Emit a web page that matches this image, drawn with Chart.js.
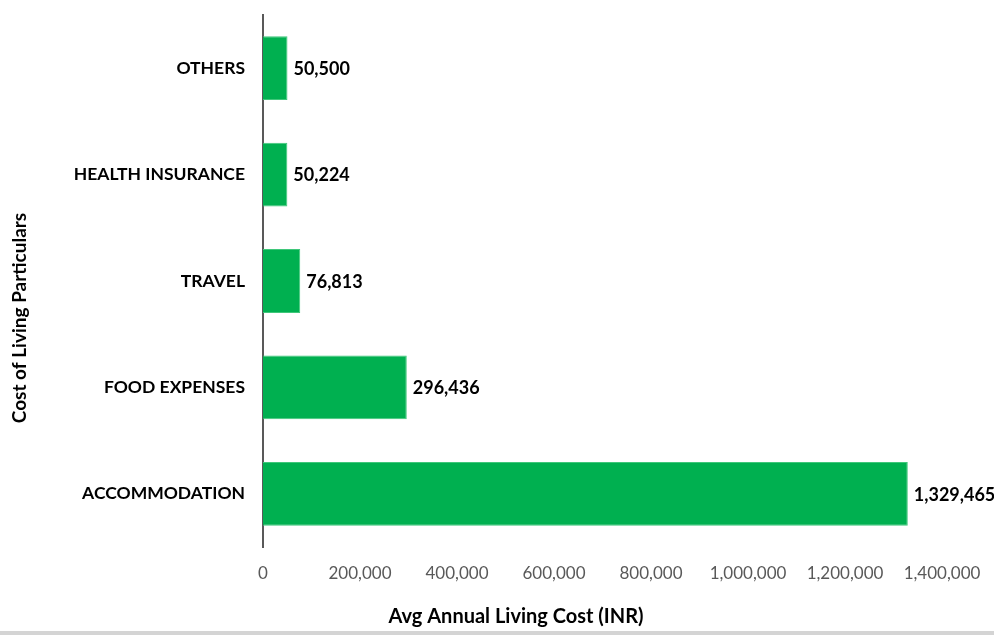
<!DOCTYPE html>
<html>
<head>
<meta charset="utf-8">
<script src="https://cdn.jsdelivr.net/npm/chart.js@4"></script>
<style>
  html, body { margin: 0; padding: 0; background: #fff; }
  #wrap { position: relative; width: 994px; height: 631px; }
  #baseLine { width: 994px; height: 4px; background: #d4d4d4; }
</style>
</head>
<body>
<div id="wrap"><canvas id="costChart"></canvas></div>
<div id="baseLine"></div>
<script>
// Dati
const categories = ["OTHERS", "HEALTH INSURANCE", "TRAVEL", "FOOD EXPENSES", "ACCOMMODATION"];
const costValues = [50500, 50224, 76813, 296436, 1329465];
const xTicks = [0, 200000, 400000, 600000, 800000, 1000000, 1200000, 1400000];

const FONT = "Lato, 'Open Sans', sans-serif";

// Etichette valore a destra di ogni barra + titoli degli assi
const barLabels = {
	id: 'barLabels',
	afterDatasetsDraw(chart) {
		const ctx = chart.ctx;
		const meta = chart.getDatasetMeta(0);
		ctx.save();
		ctx.font = "bold 18px " + FONT;
		ctx.fillStyle = "#000";
		ctx.textBaseline = "middle";
		ctx.textAlign = "left";
		meta.data.forEach(function(bar, i) {
			ctx.fillText(costValues[i].toLocaleString('en-US'), bar.x + 6, bar.y + 1);
		});
		ctx.font = "bold 20px " + FONT;
		ctx.textAlign = "center";
		ctx.fillText("Avg Annual Living Cost (INR)", 516, 617);
		ctx.font = "bold 19px " + FONT;
		ctx.translate(20, 318);
		ctx.rotate(-Math.PI / 2);
		ctx.fillText("Cost of Living Particulars", 0, 0);
		ctx.restore();
	}
};

let config = {
	type: 'bar',
	data: {
		labels: categories,
		datasets: [{
			data: costValues,
			backgroundColor: "#00B050",
			borderColor: "#3FC77A",
			borderWidth: 1,
			categoryPercentage: 1,
			barPercentage: 0.6
		}]
	},
	options: {
		indexAxis: 'y',
		responsive: true,
		maintainAspectRatio: false,
		animation: false,
		layout: { padding: { top: 15, right: 52, bottom: 0, left: 0 } },
		plugins: {
			legend: { display: false },
			tooltip: { enabled: false }
		},
		scales: {
			x: {
				min: 0,
				max: 1400000,
				afterBuildTicks: function(scale) {
					scale.ticks = xTicks.map(v => ({ value: v }));
				},
				afterFit: function(scale) { scale.height = 84; },
				grid: { display: false },
				border: { display: false },
				ticks: {
					color: "#595959",
					padding: 8,
					font: { family: FONT, size: 17 },
					callback: v => Number(v).toLocaleString('en-US')
				}
			},
			y: {
				afterFit: function(scale) {
					scale.width = 263;
					scale.paddingTop = 0;
					scale.paddingBottom = 0;
				},
				grid: { display: false },
				border: { display: true, color: "#595959", width: 2 },
				ticks: {
					color: "#000",
					padding: 10,
					font: { family: FONT, size: 17.5, weight: 'bold' }
				}
			}
		}
	},
	plugins: [barLabels]
};

var ctx = document.getElementById("costChart").getContext("2d");
window.costChart = new Chart(ctx, config);
</script>
</body>
</html>
